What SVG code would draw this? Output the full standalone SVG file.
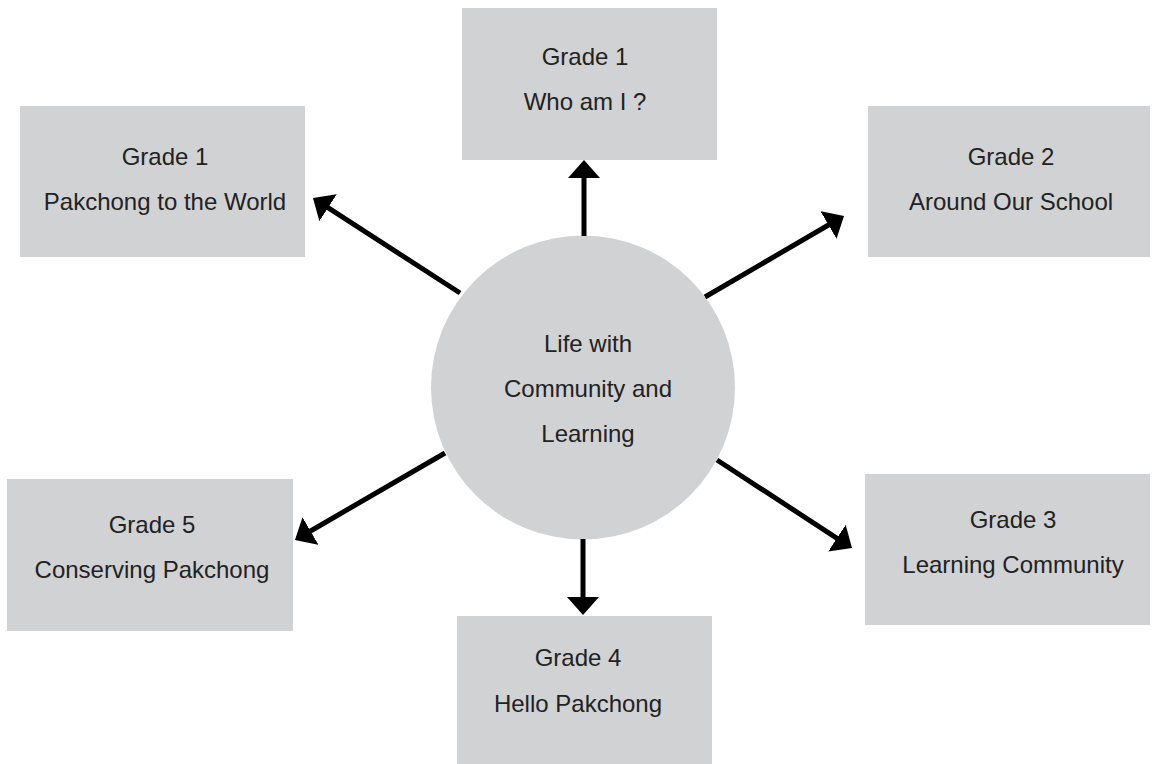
<svg xmlns="http://www.w3.org/2000/svg" width="1152" height="764" viewBox="0 0 1152 764">
  <style>
    .box { fill: #d1d2d4; }
    .hub { fill: #d1d2d4; }
    .lbl { font-family: "Liberation Sans", Arial, sans-serif; font-size: 24px; fill: #222222; text-anchor: middle; }
    .conn { stroke: #000000; stroke-width: 5; fill: none; marker-end: url(#head); }
  </style>
  <defs>
    <marker id="head" viewBox="0 0 18 32" refX="2" refY="16" markerWidth="18" markerHeight="32" markerUnits="userSpaceOnUse" orient="auto">
      <path d="M0,0 L18,16 L0,32 Z" fill="#000000"/>
    </marker>
  </defs>
  <rect width="1152" height="764" fill="#ffffff"/>

  <g id="hub">
    <circle class="hub" cx="583" cy="387.5" r="152"/>
    <text class="lbl" x="588" y="352">Life with</text>
    <text class="lbl" x="588" y="397">Community and</text>
    <text class="lbl" x="588" y="442">Learning</text>
  </g>

  <g id="grade1-who">
    <rect class="box" x="462" y="8" width="255" height="152"/>
    <text class="lbl" x="585" y="65">Grade 1</text>
    <text class="lbl" x="585" y="110">Who am I ?</text>
  </g>

  <g id="grade1-world">
    <rect class="box" x="20" y="106" width="285" height="151"/>
    <text class="lbl" x="165" y="165">Grade 1</text>
    <text class="lbl" x="165" y="210">Pakchong to the World</text>
  </g>

  <g id="grade2">
    <rect class="box" x="868" y="106" width="282" height="151"/>
    <text class="lbl" x="1011" y="165">Grade 2</text>
    <text class="lbl" x="1011" y="210">Around Our School</text>
  </g>

  <g id="grade5">
    <rect class="box" x="7" y="479" width="286" height="152"/>
    <text class="lbl" x="152" y="533">Grade 5</text>
    <text class="lbl" x="152" y="578">Conserving Pakchong</text>
  </g>

  <g id="grade3">
    <rect class="box" x="865" y="474" width="285" height="151"/>
    <text class="lbl" x="1013" y="528">Grade 3</text>
    <text class="lbl" x="1013" y="573">Learning Community</text>
  </g>

  <g id="grade4">
    <rect class="box" x="457" y="616" width="255" height="150"/>
    <text class="lbl" x="578" y="666">Grade 4</text>
    <text class="lbl" x="578" y="712">Hello Pakchong</text>
  </g>

  <g id="connectors">
    <line class="conn" x1="584" y1="236" x2="584" y2="176"/>
    <line class="conn" x1="583" y1="539" x2="583" y2="599"/>
    <line class="conn" x1="460" y1="293" x2="326.4" y2="206.7"/>
    <line class="conn" x1="705" y1="297" x2="830.2" y2="224"/>
    <line class="conn" x1="445" y1="453" x2="308.8" y2="532"/>
    <line class="conn" x1="717" y1="460" x2="838.6" y2="539.3"/>
  </g>
</svg>
